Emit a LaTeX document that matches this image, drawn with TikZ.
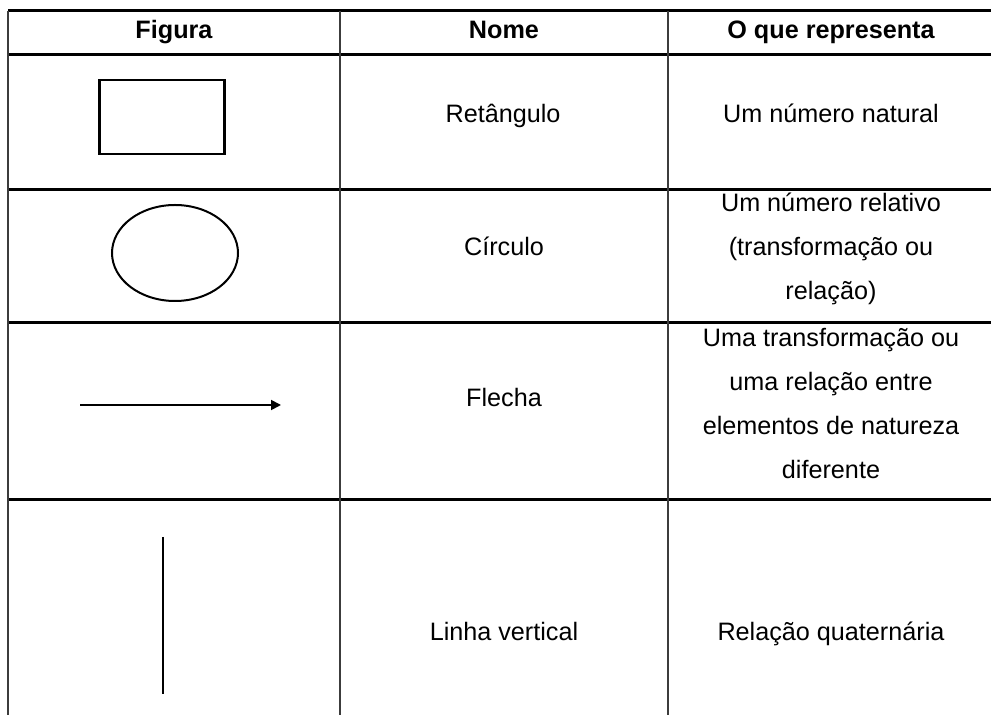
\documentclass[tikz,border=0pt]{standalone}
\usepackage{fontspec}
\setmainfont{Liberation Sans}
\usepackage{tikz}
\usetikzlibrary{arrows.meta, positioning, shapes.geometric}
\definecolor{gridgray}{HTML}{3C3C3C}

\begin{document}
\begin{tikzpicture}[x=0.5pt, y=-0.5pt, every node/.style={align=center}, >=Stealth]
        \def\fsize{\fontsize{12.6}{22}\selectfont}
        \useasboundingbox (0,0) rectangle (991,715);
        % grid of the table
        \begin{scope}[line width=1.5pt]
            \foreach \ypos in {11, 55, 190, 323, 500}
                \draw (8,\ypos) -- (991,\ypos);
        \end{scope}
        \begin{scope}[line width=1.3pt, draw=gridgray]
            \foreach \xpos in {8, 340, 668}
                \draw (\xpos,11) -- (\xpos,715);
        \end{scope}
        % header
        \begin{scope}[every node/.style={font=\fsize\bfseries, text height=1.6ex, text depth=0.4ex}]
            \node (figura) at (174,32) {Figura};
            \node (nome) at (504,32) {Nome};
            \node (repr) at (831,32) {O que representa};
        \end{scope}
        % figures
        \node[draw, line width=1.1pt, minimum width=62.5pt, minimum height=37pt] (rect) at (162,117) {};
        \node[draw, ellipse, line width=1pt, minimum width=63pt, minimum height=48pt, inner sep=0pt] (circ) at (175,253) {};
        \coordinate (arrowstart) at (80,405);
        \coordinate (arrowend) at (281,405);
        \draw[-{Triangle[length=5pt, width=5pt]}, line width=0.9pt] (arrowstart) -- (arrowend);
        \coordinate (linetop) at (163,537);
        \coordinate (linebot) at (163,694);
        \draw[line width=1pt] (linetop) -- (linebot);
        % names and meanings
        \begin{scope}[every node/.style={font=\fsize, align=center}]
            \node[text height=1.6ex, text depth=0.4ex] (nome1) at (503,116) {Retângulo};
            \node[text height=1.6ex, text depth=0.4ex] (nome2) at (504,249) {Círculo};
            \node[text height=1.6ex, text depth=0.4ex] (nome3) at (504,400) {Flecha};
            \node[text height=1.6ex, text depth=0.4ex] (nome4) at (504,634) {Linha vertical};
            \node[text height=1.6ex, text depth=0.4ex] (repr1) at (831,116) {Um número natural};
            \node (repr2) at (831,249) {Um número relativo\\(transformação ou\\relação)};
            \node (repr3) at (831,404) {Uma transformação ou\\uma relação entre\\elementos de natureza\\diferente};
            \node[text height=1.6ex, text depth=0.4ex] (repr4) at (831,634) {Relação quaternária};
        \end{scope}
    \end{tikzpicture}
\end{document}
